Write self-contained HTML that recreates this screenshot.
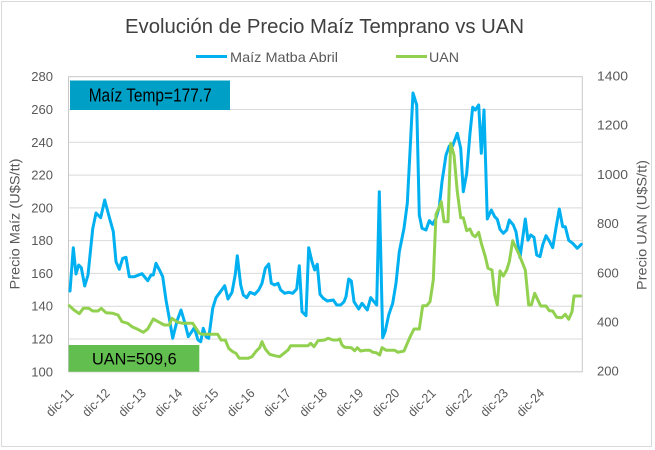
<!DOCTYPE html>
<html>
<head>
<meta charset="utf-8">
<style>
  html,body{margin:0;padding:0;background:#fff;}
  body{width:655px;height:450px;overflow:hidden;}
  svg{display:block;}
  text{font-family:"Liberation Sans", sans-serif;}
</style>
</head>
<body>
<svg width="655" height="450" viewBox="0 0 655 450" xmlns="http://www.w3.org/2000/svg">
  <rect x="0" y="0" width="655" height="450" fill="#fff"/>
  <rect x="1.5" y="1.5" width="650" height="445" fill="none" stroke="#D9D9D9" stroke-width="1"/>

  <!-- Title -->
  <text x="125" y="33" font-size="20" fill="#404040" textLength="399" lengthAdjust="spacingAndGlyphs">Evolución de Precio Maíz Temprano vs UAN</text>

  <!-- Legend -->
  <line x1="196" y1="56.5" x2="227" y2="56.5" stroke="#00B0F0" stroke-width="3"/>
  <text x="230" y="62" font-size="14" fill="#595959" textLength="108" lengthAdjust="spacingAndGlyphs">Maíz Matba Abril</text>
  <line x1="396" y1="56.5" x2="427" y2="56.5" stroke="#92D050" stroke-width="3"/>
  <text x="429" y="62" font-size="14" fill="#595959" textLength="30" lengthAdjust="spacingAndGlyphs">UAN</text>

  <!-- Gridlines -->
  <g stroke="#D9D9D9" stroke-width="1">
    <line x1="68" y1="109.5" x2="582" y2="109.5"/>
    <line x1="68" y1="142.3" x2="582" y2="142.3"/>
    <line x1="68" y1="175.1" x2="582" y2="175.1"/>
    <line x1="68" y1="207.9" x2="582" y2="207.9"/>
    <line x1="68" y1="240.6" x2="582" y2="240.6"/>
    <line x1="68" y1="273.4" x2="582" y2="273.4"/>
    <line x1="68" y1="306.2" x2="582" y2="306.2"/>
    <line x1="68" y1="339.0" x2="582" y2="339.0"/>
  </g>
  <rect x="68.5" y="76.7" width="513.8" height="295.1" fill="none" stroke="#C8C8C8" stroke-width="1"/>

  <!-- Left axis labels -->
  <g font-size="13" fill="#595959" text-anchor="end">
    <text x="53" y="81.2">280</text>
    <text x="53" y="114">260</text>
    <text x="53" y="146.8">240</text>
    <text x="53" y="179.6">220</text>
    <text x="53" y="212.4">200</text>
    <text x="53" y="245.1">180</text>
    <text x="53" y="277.9">160</text>
    <text x="53" y="310.7">140</text>
    <text x="53" y="343.5">120</text>
    <text x="53" y="376.3">100</text>
  </g>
  <!-- Right axis labels -->
  <g font-size="13" fill="#595959" text-anchor="start">
    <text x="597" y="80.5" textLength="31" lengthAdjust="spacingAndGlyphs">1400</text>
    <text x="597" y="129.7" textLength="31" lengthAdjust="spacingAndGlyphs">1200</text>
    <text x="597" y="178.9" textLength="31" lengthAdjust="spacingAndGlyphs">1000</text>
    <text x="597" y="228.1">800</text>
    <text x="597" y="277.3">600</text>
    <text x="597" y="326.5">400</text>
    <text x="597" y="375.7">200</text>
  </g>

  <!-- Axis titles -->
  <text transform="translate(19.5,224) rotate(-90)" text-anchor="middle" font-size="13.5" fill="#595959" textLength="131" lengthAdjust="spacingAndGlyphs">Precio Maíz (U$S/tt)</text>
  <text transform="translate(646.5,225) rotate(-90)" text-anchor="middle" font-size="13.5" fill="#595959" textLength="130" lengthAdjust="spacingAndGlyphs">Precio UAN (U$S/tt)</text>

  <!-- X labels -->
  <g font-size="13" fill="#595959" text-anchor="end">
    <text transform="translate(74.5,394) rotate(-45)" textLength="33" lengthAdjust="spacingAndGlyphs">dic-11</text>
    <text transform="translate(110.7,394) rotate(-45)" textLength="33" lengthAdjust="spacingAndGlyphs">dic-12</text>
    <text transform="translate(146.9,394) rotate(-45)" textLength="33" lengthAdjust="spacingAndGlyphs">dic-13</text>
    <text transform="translate(183.1,394) rotate(-45)" textLength="33" lengthAdjust="spacingAndGlyphs">dic-14</text>
    <text transform="translate(219.3,394) rotate(-45)" textLength="33" lengthAdjust="spacingAndGlyphs">dic-15</text>
    <text transform="translate(255.5,394) rotate(-45)" textLength="33" lengthAdjust="spacingAndGlyphs">dic-16</text>
    <text transform="translate(291.7,394) rotate(-45)" textLength="33" lengthAdjust="spacingAndGlyphs">dic-17</text>
    <text transform="translate(327.9,394) rotate(-45)" textLength="33" lengthAdjust="spacingAndGlyphs">dic-18</text>
    <text transform="translate(364.1,394) rotate(-45)" textLength="33" lengthAdjust="spacingAndGlyphs">dic-19</text>
    <text transform="translate(400.3,394) rotate(-45)" textLength="33" lengthAdjust="spacingAndGlyphs">dic-20</text>
    <text transform="translate(436.5,394) rotate(-45)" textLength="33" lengthAdjust="spacingAndGlyphs">dic-21</text>
    <text transform="translate(472.7,394) rotate(-45)" textLength="33" lengthAdjust="spacingAndGlyphs">dic-22</text>
    <text transform="translate(508.9,394) rotate(-45)" textLength="33" lengthAdjust="spacingAndGlyphs">dic-23</text>
    <text transform="translate(545.1,394) rotate(-45)" textLength="33" lengthAdjust="spacingAndGlyphs">dic-24</text>
  </g>

  <!-- Maíz series -->
  <polyline fill="none" stroke="#00B0F0" stroke-width="3" stroke-linejoin="round" stroke-linecap="round"
    points="70,291 73.3,247.7 76,274 78.7,265 81.3,267.7 84.7,286 88,275 92.7,229 96,213 100.7,217.7 104.7,200 108.7,215 113.3,231.7 116,261.7 119.3,269.3 122.7,258.3 126,257.3 129.3,276.7 134.3,276.7 142,273.7 147.7,280.7 151,275 153.3,275 156,263.3 160,271 162.7,276.7 166,300 169.3,318.3 172.7,338.3 177,321 181,310 185,323.3 188.3,336.7 191.7,331.7 194.3,327.7 198,340 200.7,341.7 203.3,328.3 206,336.7 208.7,338.3 212.7,308.3 216,297.7 220,292.3 224.7,285.7 228,299 232,292.3 235.3,274.3 237.3,255.7 240.7,285 243.3,295 246.7,297.7 250,292.3 254.7,294.3 258.7,290 262,283.3 265.3,268.3 268.7,264 271.3,283.3 274.7,285 278,283.3 280.7,290 284.7,293.3 288.7,292.3 292.7,293.3 296.7,289 299.3,265.7 302,311.7 306,315.7 308.7,247.7 312,261.7 314.7,270 317.3,264.3 320,294.3 323.3,298.3 327.3,301 333.3,300 336.7,305 340.7,305 344,301.7 346,296.7 348.7,279 351.3,281 354,301.7 358.7,309 362,303.3 367.3,310 370.7,297.7 374,301.7 376.7,305 379.3,191.7 382.7,337.7 385.3,331 388.7,315 392.7,303.3 396,283.3 399.3,251.7 404,228.3 407.3,203.3 410,151.7 413,93 416.7,105 419.3,215 422,228.3 426,230 429.3,220.7 432.7,224.3 436,218.3 439.3,206.7 442,181.7 446,155 449.3,146 452.7,145.7 457.3,133.3 460.7,148.3 463.3,191.7 466.7,173.3 470,133.3 472.7,107.3 475.3,110 478.7,105 481.3,153.3 484,110 487.3,219 491.3,210 494.7,216.7 497.3,219.3 500,229.3 503.3,233.3 506.7,230 509.3,220 513.3,225 516,231.7 520,257.7 525.3,219 528,240.3 530.7,235 534,237.3 536.7,255 540,256.7 542.7,245 546,235.7 549.3,241 552.7,247.7 556,227.7 559.3,209 562.7,226.7 565.3,226.7 568.7,240.3 572.7,243.3 577.3,248.3 581.3,244.3"/>

  <!-- UAN series -->
  <polyline fill="none" stroke="#92D050" stroke-width="3" stroke-linejoin="round" stroke-linecap="round"
    points="69.3,305.7 74,310 79.3,313.7 83.3,308.3 88.7,308.3 92.7,311 98,311 101.3,308.3 106,312.7 112.7,313.3 118,315 122,321.7 127.7,323.3 132,326.7 137.7,329.3 143.3,332.3 147.7,329 153.3,319 159.3,322.3 164.3,325 169.3,325 172,318.3 177.7,322.3 183.3,323.3 192.7,323.3 196,328.3 199.3,333.3 202.7,334.3 212.7,334.3 217.7,334.3 221,340 225.3,340 228.7,348.3 232.7,351.7 236,353.3 239.3,358.3 248,358.3 252,356.7 256.3,351 259.7,347.7 262,341.7 265.3,349 269.7,354.3 274.7,355.7 279.7,356.7 284.7,352.7 288,350 290.7,345.7 298,345.7 308,345.7 310.7,343.3 314,346.7 318,340.7 324.7,340 328,338.3 333,340 337.3,340 339.7,339 342,345 344.7,347.3 351.3,347.7 354.7,350.7 357.3,347.7 360.7,351 364.7,350.3 369.7,350.3 373,352.3 376.3,352.7 379.7,355 382,347.7 386.3,350.3 394.7,350.3 398,352.3 404,351 408,341.7 410.5,336 414,329 419.3,329 422.7,305.7 426.7,305.7 430,301.7 433.3,280 436,214.3 438.7,208.3 441.3,201.7 444,221.7 448,221.7 450.7,143.3 454,155 457.3,191.7 460.7,217.7 463.3,217.7 466.7,230.7 470,229 472.7,235 475.3,236.7 478.7,232.3 481.3,243.3 485.3,256.7 488,268.3 492,270 494.7,295 497.3,305 500,271 503.3,276 506.7,270 509.3,261.7 512.7,240.7 519.3,255 525.3,270 528.7,305 531.3,305 534.7,293.3 540.7,306 546,306 549.3,310.7 552.7,311 556.7,317.3 561.7,317.7 565.3,314.3 568.7,319.3 572,311.7 574,296 580.7,296"/>

  <!-- Boxes -->
  <rect x="70" y="80.5" width="160" height="29.5" fill="#00A0C6"/>
  <text x="88.7" y="101.7" font-size="18" fill="#000" textLength="123" lengthAdjust="spacingAndGlyphs">Maíz Temp=177.7</text>

  <rect x="68.7" y="345" width="130.6" height="26.7" fill="#62BE4F"/>
  <text x="92" y="364.3" font-size="17" fill="#000" textLength="84.7" lengthAdjust="spacingAndGlyphs">UAN=509,6</text>
</svg>
</body>
</html>
